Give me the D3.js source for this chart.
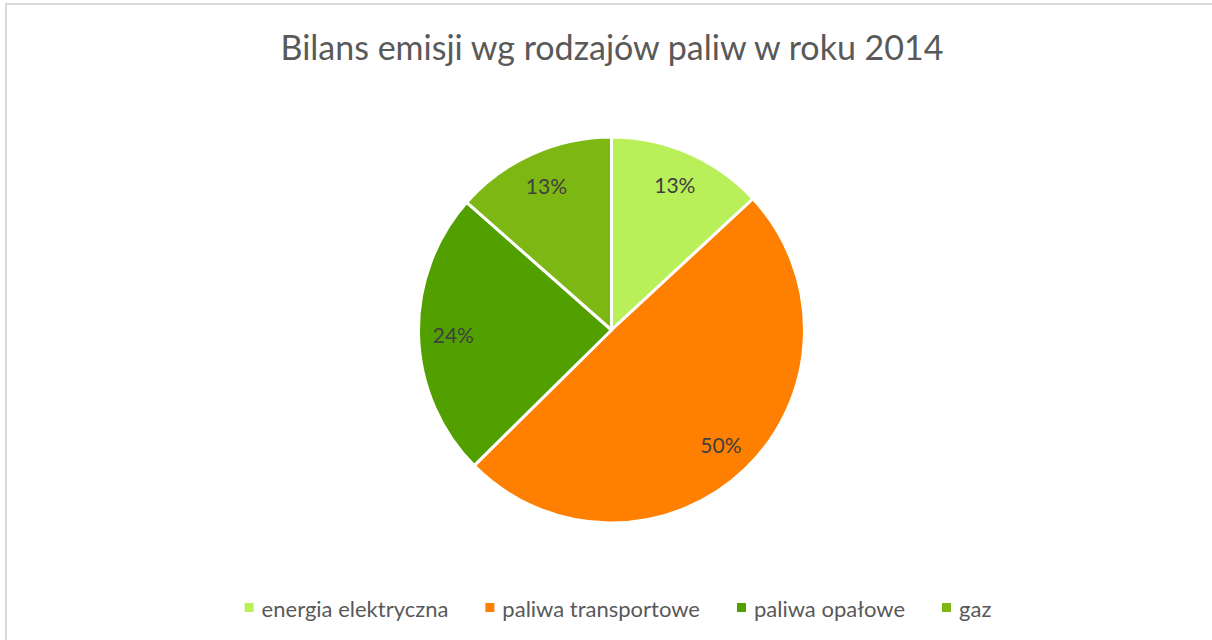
<!DOCTYPE html>
<html>
<head>
<meta charset="utf-8">
<script src="https://cdn.jsdelivr.net/npm/d3@7"></script>
<style>
  html, body { margin: 0; padding: 0; background: #fff; }
  svg { display: block; }
</style>
</head>
<body>
<svg id="chart" width="1212" height="640"></svg>
<script>
const titleText = "Bilans emisji wg rodzajów paliw w roku 2014";
const categories = ["energia elektryczna", "paliwa transportowe", "paliwa opałowe", "gaz"];
const values = [13.1, 49.5, 23.9, 13.5];
const labels = ["13%", "50%", "24%", "13%"];
const colors = ["#b9f05a", "#ff7f00", "#52a000", "#7db714"];

const W = 1212, H = 640;
const svg = d3.select("#chart");
const FONT = "Lato, 'Open Sans', sans-serif";

// chart border
svg.append("rect")
  .attr("x", 6).attr("y", 4)
  .attr("width", W + 10).attr("height", H + 10)
  .attr("fill", "#fff").attr("stroke", "#d9d9d9").attr("stroke-width", 2);

// title
svg.append("text")
  .attr("x", 612).attr("y", 60)
  .attr("text-anchor", "middle")
  .attr("font-family", FONT)
  .attr("font-size", 34)
  .attr("fill", "#595959")
  .text(titleText);

const cx = 611.5, cy = 330, R = 193;
const pie = d3.pie().sort(null).value(d => d);
const arcs = pie(values);
const arc = d3.arc().innerRadius(0).outerRadius(R);
const labelArc = d3.arc().innerRadius(R * 0.82).outerRadius(R * 0.82);

const g = svg.append("g").attr("transform", `translate(${cx},${cy})`);
g.selectAll("path.slice").data(arcs).join("path")
  .attr("class", "slice")
  .attr("d", arc)
  .attr("fill", (d, i) => colors[i])
  .attr("stroke", "#fff")
  .attr("stroke-width", 3)
  .attr("stroke-linejoin", "round");

g.selectAll("text.lbl").data(arcs).join("text")
  .attr("class", "lbl")
  .attr("transform", d => `translate(${labelArc.centroid(d)})`)
  .attr("text-anchor", "middle")
  .attr("dominant-baseline", "central")
  .attr("font-family", FONT)
  .attr("font-size", 21)
  .attr("fill", "#404040")
  .text((d, i) => labels[i]);

// legend
const legend = svg.append("g").attr("transform", "translate(0,608)");
const items = legend.selectAll("g.item").data(categories).join("g").attr("class", "item");
items.append("rect")
  .attr("width", 9).attr("height", 9).attr("y", -5)
  .attr("fill", (d, i) => colors[i]);
items.append("text")
  .attr("x", 17).attr("y", 0)
  .attr("dominant-baseline", "central")
  .attr("font-family", FONT)
  .attr("font-size", 22)
  .attr("fill", "#595959")
  .text(d => d);

// layout legend items centered
let widths = [];
items.each(function() { widths.push(this.getBBox().width); });
const gap = 37;
const total = d3.sum(widths) + gap * (widths.length - 1);
let x0 = 618 - total / 2;
items.attr("transform", (d, i) => {
  const t = `translate(${x0},0)`;
  x0 += widths[i] + gap;
  return t;
});
</script>
</body>
</html>
